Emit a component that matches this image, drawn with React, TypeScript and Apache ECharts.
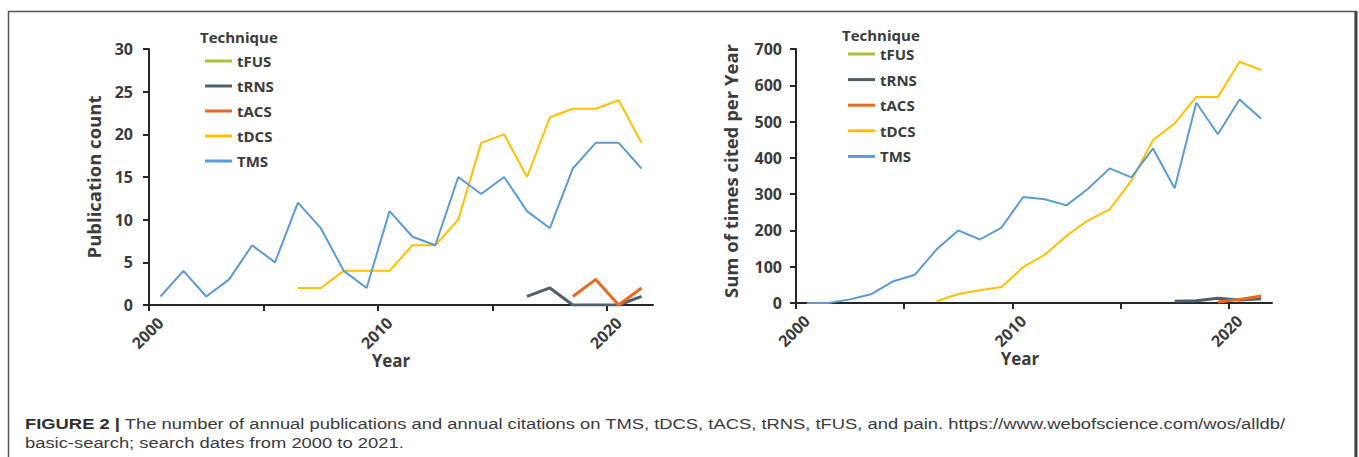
import React, { useEffect, useRef } from "react";
import * as echarts from "echarts";

// ---------- data ----------
const years = [
  "2000", "2001", "2002", "2003", "2004", "2005", "2006", "2007", "2008", "2009", "2010",
  "2011", "2012", "2013", "2014", "2015", "2016", "2017", "2018", "2019", "2020", "2021",
];
const yearTicks = [2000, 2005, 2010, 2015, 2020];
const techniques = ["tFUS", "tRNS", "tACS", "tDCS", "TMS"];
const techniqueColors = ["#A8C23C", "#4F606C", "#E9691E", "#FFC000", "#5B9BD5"];
const techniqueWidths = [2, 3, 3, 2, 2];

// Publication count per year
const pubTFUS = [null, null, null, null, null, null, null, null, null, null, null,
  null, null, null, null, null, null, null, null, null, null, null];
const pubTRNS = [null, null, null, null, null, null, null, null, null, null, null,
  null, null, null, null, null, 1, 2, 0, 0, 0, 1];
const pubTACS = [null, null, null, null, null, null, null, null, null, null, null,
  null, null, null, null, null, null, null, 1, 3, 0, 2];
const pubTDCS = [null, null, null, null, null, null, 2, 2, 4, 4, 4,
  7, 7, 10, 19, 20, 15, 22, 23, 23, 24, 19];
const pubTMS = [1, 4, 1, 3, 7, 5, 12, 9, 4, 2, 11,
  8, 7, 15, 13, 15, 11, 9, 16, 19, 19, 16];

// Sum of times cited per year
const citeTFUS = [null, null, null, null, null, null, null, null, null, null, null,
  null, null, null, null, null, null, null, null, null, null, null];
const citeTRNS = [null, null, null, null, null, null, null, null, null, null, null,
  null, null, null, null, null, null, 5, 6, 13, 8, 12];
const citeTACS = [null, null, null, null, null, null, null, null, null, null, null,
  null, null, null, null, null, null, null, null, 3, 10, 19];
const citeTDCS = [null, null, null, null, null, null, 5, 25, 35, 44, 99,
  133, 185, 228, 258, 337, 449, 495, 568, 568, 665, 642];
const citeTMS = [0, 0, 10, 25, 60, 78, 148, 200, 175, 208, 292,
  286, 269, 315, 371, 346, 426, 316, 552, 465, 561, 508];

const pubSeries = [pubTFUS, pubTRNS, pubTACS, pubTDCS, pubTMS];
const citeSeries = [citeTFUS, citeTRNS, citeTACS, citeTDCS, citeTMS];

const pubTicks = { min: 0, max: 30, interval: 5 };
const citeTicks = { min: 0, max: 700, interval: 100 };

const captionBold = "FIGURE 2 |";
const captionLine1 =
  " The number of annual publications and annual citations on TMS, tDCS, tACS, tRNS, tFUS, and pain. https://www.webofscience.com/wos/alldb/";
const captionLine2 = "basic-search; search dates from 2000 to 2021.";

// ---------- styles ----------
const FONT = "'Open Sans', sans-serif";
const CAPTION_FONT = "'Liberation Sans', Arial, sans-serif";
const CAPTION_SIZE = 14;
const TEXT = "#3b3b3b";
const AXIS = "#262626";

function xAxes(gridIndex: number, namePad: number) {
  const labelAxis = {
    type: "category",
    gridIndex,
    position: "bottom",
    data: years,
    boundaryGap: true,
    axisLine: { show: true, lineStyle: { color: AXIS, width: 2 } },
    axisTick: { show: false },
    axisLabel: {
      interval: 9,
      rotate: 45,
      margin: 15,
      color: TEXT,
      fontFamily: FONT,
      fontWeight: "bold",
      fontSize: 16,
    },
    splitLine: { show: false },
    name: "Year",
    nameLocation: "middle",
    nameGap: 47,
    nameMoveOverlap: false,
    nameTextStyle: {
      color: TEXT,
      fontFamily: FONT,
      fontWeight: "bold",
      fontSize: 17,
      padding: [0, namePad, 0, 0],
    },
  };
  const tickAxis = {
    type: "value",
    gridIndex,
    position: "bottom",
    min: 2000,
    max: 2022,
    axisLine: { show: false },
    axisTick: {
      show: true,
      length: 6,
      customValues: yearTicks,
      lineStyle: { color: AXIS, width: 2 },
    },
    axisLabel: { show: false },
    splitLine: { show: false },
  };
  return [labelAxis, tickAxis];
}

function yAxis(
  gridIndex: number,
  ticks: any,
  name: string,
  nameGap: number,
  labelMargin: number,
  nameShift: number
) {
  return {
    type: "value",
    gridIndex,
    min: ticks.min,
    max: ticks.max,
    interval: ticks.interval,
    splitLine: { show: false },
    axisLine: { show: true, lineStyle: { color: AXIS, width: 2 } },
    axisTick: { show: true, length: 6, lineStyle: { color: AXIS, width: 2 } },
    axisLabel: {
      margin: labelMargin,
      color: TEXT,
      fontFamily: FONT,
      fontWeight: "bold",
      fontSize: 16,
    },
    name,
    nameLocation: "middle",
    nameGap,
    nameMoveOverlap: false,
    nameTextStyle: {
      color: TEXT,
      fontFamily: FONT,
      fontWeight: "bold",
      fontSize: 18.5,
      padding: [0, 0, 0, nameShift],
    },
  };
}

function buildSeries(data: any[][], xAxisIndex: number, yAxisIndex: number) {
  return techniques.map((name, i) => ({
    type: "line",
    name,
    data: data[i],
    xAxisIndex,
    yAxisIndex,
    showSymbol: false,
    symbol: "none",
    connectNulls: false,
    lineStyle: { color: techniqueColors[i], width: techniqueWidths[i] },
    itemStyle: { color: techniqueColors[i] },
    emphasis: { disabled: true },
    z: 2 + i,
  }));
}

function legend(left: number, top: number, gap: number) {
  return {
    orient: "vertical",
    left,
    top,
    padding: 0,
    data: techniques,
    icon: "rect",
    itemWidth: 27,
    itemHeight: 3,
    itemGap: gap,
    selectedMode: false,
    textStyle: {
      color: TEXT,
      fontFamily: FONT,
      fontWeight: "bold",
      fontSize: 15,
      lineHeight: 16,
    },
  };
}

// caption: the first line fills the caption width, as in the figure
function caption(): any[] {
  const canvas = document.createElement("canvas");
  const ctx = canvas.getContext("2d") as CanvasRenderingContext2D;
  ctx.font = `bold ${CAPTION_SIZE}px ${CAPTION_FONT}`;
  const wb = ctx.measureText(captionBold).width;
  ctx.font = `${CAPTION_SIZE}px ${CAPTION_FONT}`;
  const wr = ctx.measureText(captionLine1).width;
  const sx = (1286 - 25) / (wb + wr);
  const base = {
    fill: "#3a3a3a",
    font: `${CAPTION_SIZE}px ${CAPTION_FONT}`,
    verticalAlign: "middle",
  };
  return [
    {
      type: "text",
      silent: true,
      x: 25,
      y: 423.5,
      scaleX: sx,
      style: {
        ...base,
        text: `{b|${captionBold}}${captionLine1}`,
        rich: {
          b: {
            fontWeight: "bold",
            fontSize: CAPTION_SIZE,
            fontFamily: CAPTION_FONT,
            fill: "#2f2f2f",
          },
        },
      },
    },
    {
      type: "text",
      silent: true,
      x: 25,
      y: 443,
      scaleX: sx,
      style: { ...base, text: captionLine2 },
    },
  ];
}

export default function App() {
  const ref = useRef<HTMLDivElement>(null);

  useEffect(() => {
    if (!ref.current) return;
    const chart = echarts.init(ref.current, null, { renderer: "svg" });
    const [x0, x1] = xAxes(0, 20);
    const [x2, x3] = xAxes(1, 28);
    const option: any = {
      animation: false,
      backgroundColor: "#ffffff",
      color: techniqueColors,
      grid: [
        { left: 149, top: 49, width: 504, height: 256, containLabel: false },
        { left: 796, top: 49, width: 476, height: 254, containLabel: false },
      ],
      xAxis: [x0, x1, x2, x3],
      yAxis: [
        yAxis(0, pubTicks, "Publication count", 46, 16, 0),
        yAxis(1, citeTicks, "Sum of times cited per Year", 56, 14, 10),
      ],
      legend: [legend(205, 53, 9), legend(848, 46, 9.6)],
      series: [...buildSeries(pubSeries, 0, 0), ...buildSeries(citeSeries, 2, 1)],
      graphic: [
        {
          type: "rect",
          silent: true,
          shape: { x: 8.5, y: 11.5, width: 1347, height: 470 },
          style: { fill: "none", stroke: "#555555", lineWidth: 1.5 },
        },
        {
          type: "line",
          silent: true,
          shape: { x1: 1356, y1: 11, x2: 1356, y2: 470 },
          style: { stroke: "#444444", lineWidth: 3 },
        },
        {
          type: "text",
          left: 200,
          top: 29,
          style: { text: "Technique", fill: TEXT, font: `bold 15px ${FONT}` },
        },
        {
          type: "text",
          left: 842,
          top: 27,
          style: { text: "Technique", fill: TEXT, font: `bold 15px ${FONT}` },
        },
        ...caption(),
      ],
    };
    chart.setOption(option);
    return () => chart.dispose();
  }, []);

  return (
    <div
      ref={ref}
      style={{ position: "absolute", left: 0, top: 0, width: 1359, height: 457 }}
    />
  );
}
